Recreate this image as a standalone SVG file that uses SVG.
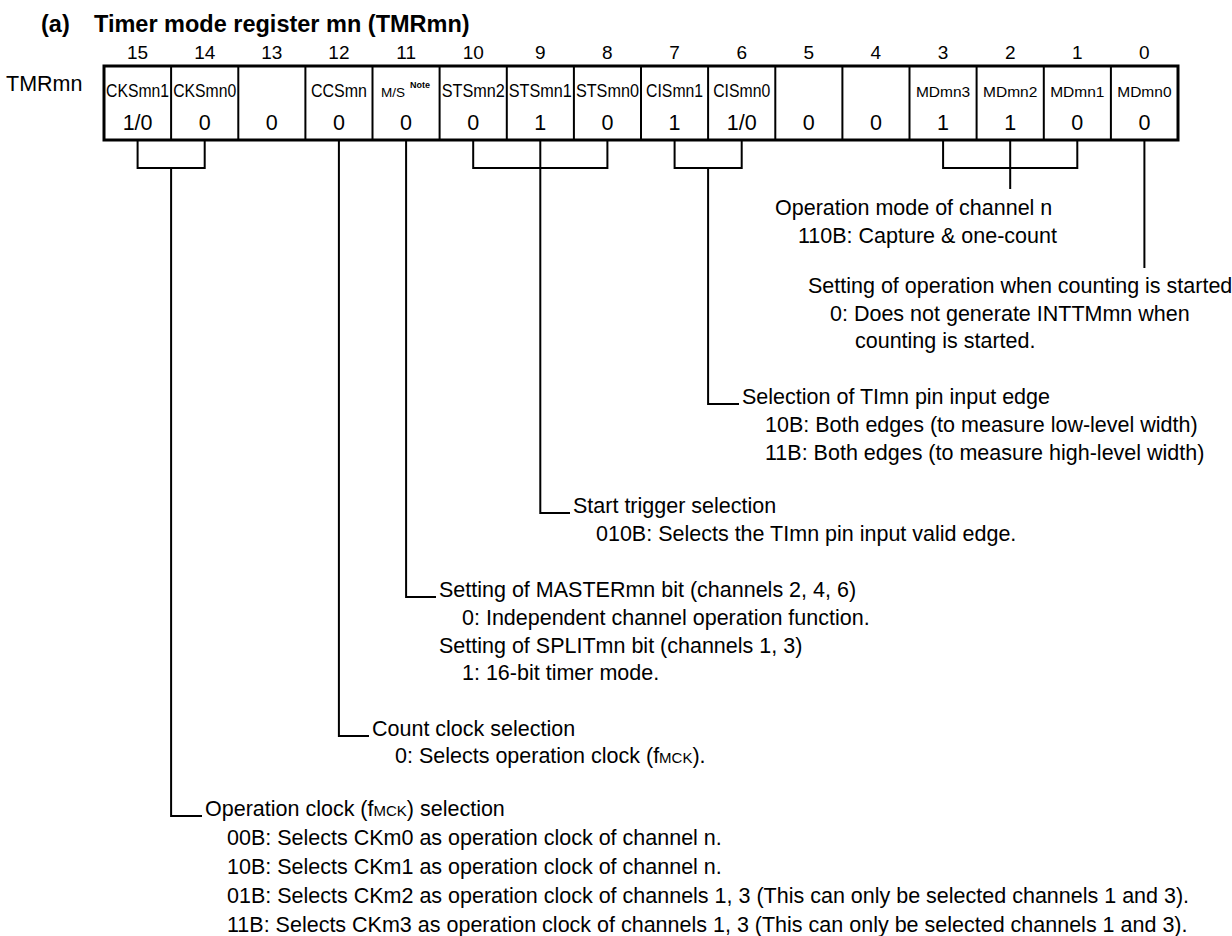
<svg xmlns="http://www.w3.org/2000/svg" width="1232" height="936" viewBox="0 0 1232 936">
<style>
text{font-family:"Liberation Sans",Arial,Helvetica,sans-serif;fill:#000}
.t{font-size:23.5px;font-weight:bold}
.bn{font-size:19px;text-anchor:middle}
.reg{font-size:21.5px}
.lb{font-size:17.5px;text-anchor:middle}
.lbs{font-size:15.5px;text-anchor:middle}
.ms{font-size:13.5px}
.note{font-size:9px;font-weight:bold}
.v{font-size:21.5px;text-anchor:middle}
.d{font-size:21.5px}
.sub{font-size:15px}
.box{fill:none;stroke:#000;stroke-width:3}
.dv{stroke:#000;stroke-width:2}
.cn{fill:none;stroke:#000;stroke-width:2}
</style>
<rect width="1232" height="936" fill="#fff"/>
<g id="title"><text class="t" x="41" y="32">(a)<tspan x="94">Timer mode register mn (TMRmn)</tspan></text></g>
<g id="bit-numbers">
<text class="bn" x="137.6" y="59">15</text><text class="bn" x="204.7" y="59">14</text><text class="bn" x="271.8" y="59">13</text><text class="bn" x="338.9" y="59">12</text>
<text class="bn" x="406.1" y="59">11</text><text class="bn" x="473.2" y="59">10</text><text class="bn" x="540.3" y="59">9</text><text class="bn" x="607.4" y="59">8</text>
<text class="bn" x="674.6" y="59">7</text><text class="bn" x="741.7" y="59">6</text><text class="bn" x="808.8" y="59">5</text><text class="bn" x="875.9" y="59">4</text>
<text class="bn" x="943.1" y="59">3</text><text class="bn" x="1010.2" y="59">2</text><text class="bn" x="1077.3" y="59">1</text><text class="bn" x="1144.4" y="59">0</text>
</g>
<g id="register-name"><text class="reg" x="6" y="91">TMRmn</text></g>
<g id="register">
<rect class="box" x="104" y="66" width="1074" height="74"/>
<path class="dv" d="M171.1,66V140M238.3,66V140M305.4,66V140M372.5,66V140M439.6,66V140M506.8,66V140M573.9,66V140M641,66V140M708.1,66V140M775.3,66V140M842.4,66V140M909.5,66V140M976.6,66V140M1043.8,66V140M1110.9,66V140"/>
<g id="bit15"><text class="lb" x="137.6" y="96.5" textLength="63" lengthAdjust="spacingAndGlyphs">CKSmn1</text><text class="v" x="137.6" y="130">1/0</text></g>
<g id="bit14"><text class="lb" x="204.7" y="96.5" textLength="63" lengthAdjust="spacingAndGlyphs">CKSmn0</text><text class="v" x="204.7" y="130">0</text></g>
<g id="bit13"><text class="v" x="271.8" y="130">0</text></g>
<g id="bit12"><text class="lb" x="338.9" y="96.5" textLength="56" lengthAdjust="spacingAndGlyphs">CCSmn</text><text class="v" x="338.9" y="130">0</text></g>
<g id="bit11"><text class="ms" x="381" y="96.5">M/S</text><text class="note" x="410" y="88">Note</text><text class="v" x="406.1" y="130">0</text></g>
<g id="bit10"><text class="lb" x="473.2" y="96.5" textLength="63" lengthAdjust="spacingAndGlyphs">STSmn2</text><text class="v" x="473.2" y="130">0</text></g>
<g id="bit9"><text class="lb" x="540.3" y="96.5" textLength="63" lengthAdjust="spacingAndGlyphs">STSmn1</text><text class="v" x="540.3" y="130">1</text></g>
<g id="bit8"><text class="lb" x="607.4" y="96.5" textLength="63" lengthAdjust="spacingAndGlyphs">STSmn0</text><text class="v" x="607.4" y="130">0</text></g>
<g id="bit7"><text class="lb" x="674.6" y="96.5" textLength="57" lengthAdjust="spacingAndGlyphs">CISmn1</text><text class="v" x="674.6" y="130">1</text></g>
<g id="bit6"><text class="lb" x="741.7" y="96.5" textLength="57" lengthAdjust="spacingAndGlyphs">CISmn0</text><text class="v" x="741.7" y="130">1/0</text></g>
<g id="bit5"><text class="v" x="808.8" y="130">0</text></g>
<g id="bit4"><text class="v" x="875.9" y="130">0</text></g>
<g id="bit3"><text class="lbs" x="943.1" y="96.5">MDmn3</text><text class="v" x="943.1" y="130">1</text></g>
<g id="bit2"><text class="lbs" x="1010.2" y="96.5">MDmn2</text><text class="v" x="1010.2" y="130">1</text></g>
<g id="bit1"><text class="lbs" x="1077.3" y="96.5">MDmn1</text><text class="v" x="1077.3" y="130">0</text></g>
<g id="bit0"><text class="lbs" x="1144.4" y="96.5">MDmn0</text><text class="v" x="1144.4" y="130">0</text></g>
</g>
<g id="connectors">
<path class="cn" d="M137.6,140V168H204.7V140M171.1,168V816H202"/>
<path class="cn" d="M338.9,140V736H369"/>
<path class="cn" d="M406.1,140V597H436"/>
<path class="cn" d="M473.2,140V168H607.4V140M540.3,140V513H570"/>
<path class="cn" d="M674.6,140V168H741.7V140M708.1,168V404H739"/>
<path class="cn" d="M943.1,140V168H1077.3V140M1010.2,140V189"/>
<path class="cn" d="M1144.4,140V268"/>
</g>
<g id="desc-md">
<text class="d" x="775" y="215">Operation mode of channel n</text>
<text class="d" x="798" y="243">110B: Capture &amp; one-count</text>
</g>
<g id="desc-md0">
<text class="d" x="808" y="293">Setting of operation when counting is started</text>
<text class="d" x="830" y="321">0: Does not generate INTTMmn when</text>
<text class="d" x="855" y="348">counting is started.</text>
</g>
<g id="desc-cis">
<text class="d" x="742" y="404">Selection of TImn pin input edge</text>
<text class="d" x="765" y="432">10B: Both edges (to measure low-level width)</text>
<text class="d" x="765" y="460">11B: Both edges (to measure high-level width)</text>
</g>
<g id="desc-sts">
<text class="d" x="573" y="513">Start trigger selection</text>
<text class="d" x="596" y="541">010B: Selects the TImn pin input valid edge.</text>
</g>
<g id="desc-ms">
<text class="d" x="439" y="597">Setting of MASTERmn bit (channels 2, 4, 6)</text>
<text class="d" x="462" y="625">0: Independent channel operation function.</text>
<text class="d" x="439" y="653">Setting of SPLITmn bit (channels 1, 3)</text>
<text class="d" x="462" y="680">1: 16-bit timer mode.</text>
</g>
<g id="desc-ccs">
<text class="d" x="372" y="736">Count clock selection</text>
<text class="d" x="395" y="763">0: Selects operation clock (f<tspan class="sub">MCK</tspan>).</text>
</g>
<g id="desc-cks">
<text class="d" x="205" y="816">Operation clock (f<tspan class="sub">MCK</tspan>) selection</text>
<text class="d" x="227" y="845">00B: Selects CKm0 as operation clock of channel n.</text>
<text class="d" x="227" y="874">10B: Selects CKm1 as operation clock of channel n.</text>
<text class="d" x="227" y="903">01B: Selects CKm2 as operation clock of channels 1, 3 (This can only be selected channels 1 and 3).</text>
<text class="d" x="227" y="932">11B: Selects CKm3 as operation clock of channels 1, 3 (This can only be selected channels 1 and 3).</text>
</g>
</svg>
